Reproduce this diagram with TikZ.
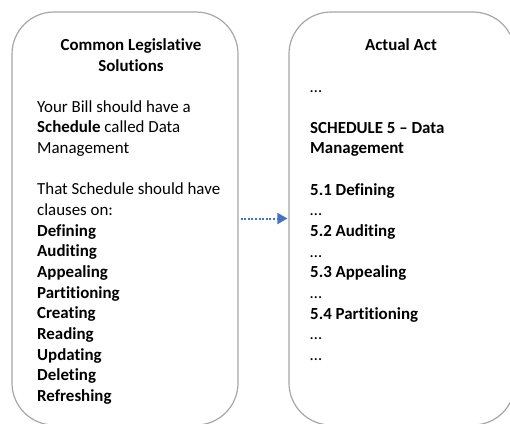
\documentclass[tikz,border=0pt]{standalone}
\usepackage{fontspec}
\setmainfont{Carlito}[Ligatures=NoCommon]
\usetikzlibrary{arrows.meta}
\definecolor{framegray}{HTML}{A6A6A6}
\definecolor{linkblue}{HTML}{4472C4}
% one column of text whose first baseline is the node's base
\newcommand\coltext[2]{\parbox[t]{#1}{\raggedright\fontsize{16.9pt}{20.65pt}\selectfont #2}}
\tikzset{
  panel/.style={draw=framegray, line width=1.2pt, rounded corners=42pt,
    minimum width=226pt, minimum height=413pt, inner sep=0pt},
  heading/.style={anchor=base, inner sep=0pt, align=center,
    font=\fontsize{16.9pt}{20.65pt}\selectfont\bfseries},
  bodytext/.style={anchor=base west, inner sep=0pt},
  link/.style={draw=linkblue, line width=2pt, dash pattern=on 2pt off 1.6pt,
    -{Triangle[length=10pt,width=11pt,fill=linkblue]}}
}
\begin{document}
\begin{tikzpicture}[x=1pt, y=-1pt]
  \useasboundingbox (0,0) rectangle (510,423);

  % the two panels
  \node[panel] (lbox) at (125,218.5) {};
  \node[panel] (rbox) at (402,218.5) {};

  % left panel (base of a two-line heading is its last line)
  \node[heading] (ltitle) at (131,71.1) {Common Legislative\\Solutions};
  \node[bodytext] (lbody) at (37,112.3) {\coltext{200pt}{%
    Your Bill should have a\\
    \textbf{Schedule} called Data\\
    Management\\[20.65pt]
    That Schedule should have\\
    clauses on:\\
    \textbf{Defining}\\
    \textbf{Auditing}\\
    \textbf{Appealing}\\
    \textbf{Partitioning}\\
    \textbf{Creating}\\
    \textbf{Reading}\\
    \textbf{Updating}\\
    \textbf{Deleting}\\
    \textbf{Refreshing}}};

  % right panel
  \node[heading] (rtitle) at (401,50) {Actual Act};
  \node[bodytext] (rbody) at (310,92) {\coltext{190pt}{%
    …\\[20.65pt]
    \textbf{SCHEDULE 5 – Data}\\
    \textbf{Management}\\[20.65pt]
    \textbf{5.1 Defining}\\
    …\\
    \textbf{5.2 Auditing}\\
    …\\
    \textbf{5.3 Appealing}\\
    …\\
    \textbf{5.4 Partitioning}\\
    …\\
    …}};

  % connector
  \draw[link, shorten <=2pt, shorten >=1pt] (lbox.east) -- (rbox.west);
\end{tikzpicture}
\end{document}
